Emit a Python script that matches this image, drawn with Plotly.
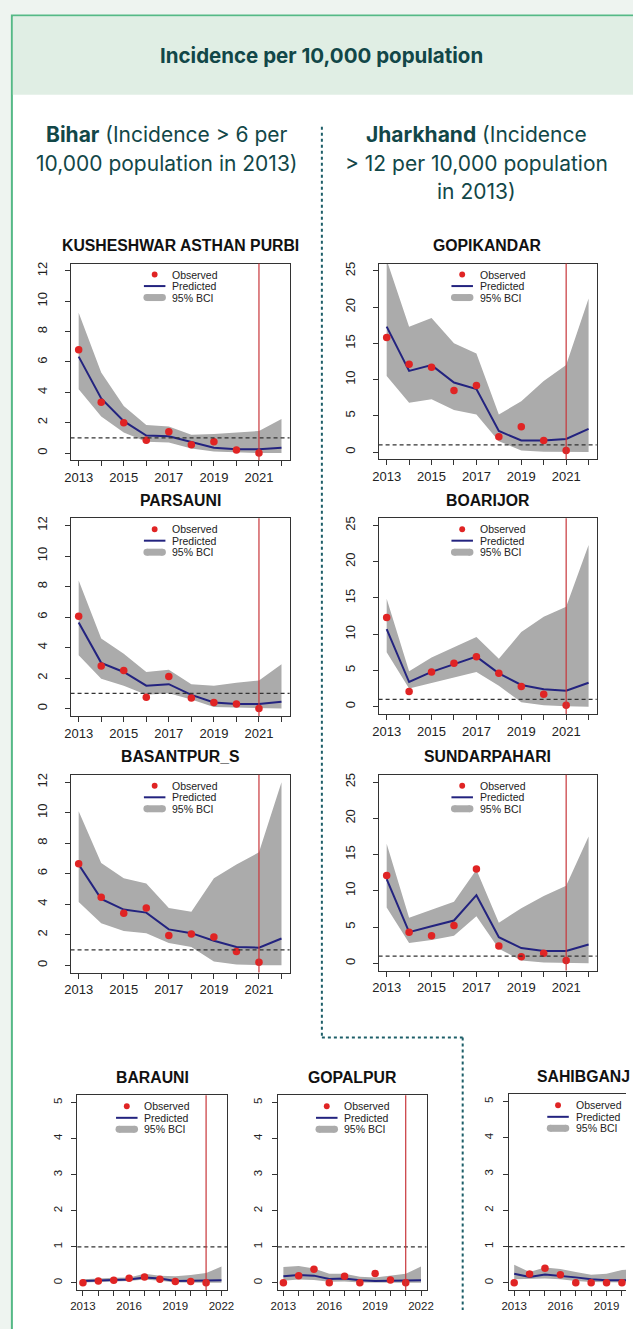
import plotly.graph_objects as go

W, H = 633, 1329

# ---------------- data ----------------
years = [2013, 2014, 2015, 2016, 2017, 2018, 2019, 2020, 2021, 2022]
obs_years = [2013, 2014, 2015, 2016, 2017, 2018, 2019, 2020, 2021]
cutoff_year = 2021
threshold = 1

kush_obs = [6.8, 3.35, 2.0, 0.85, 1.4, 0.55, 0.75, 0.2, 0.0]
kush_pred = [6.35, 3.6, 2.1, 1.15, 1.1, 0.75, 0.35, 0.25, 0.25, 0.35]
kush_hi = [9.25, 5.3, 3.1, 1.85, 1.75, 1.2, 1.25, 1.35, 1.45, 2.25]
kush_lo = [4.2, 2.4, 1.35, 0.75, 0.7, 0.3, 0.1, 0.05, 0.0, 0.0]

pars_obs = [6.05, 2.8, 2.5, 0.75, 2.1, 0.7, 0.4, 0.3, 0.0]
pars_pred = [5.65, 3.0, 2.4, 1.5, 1.6, 0.9, 0.4, 0.3, 0.3, 0.45]
pars_hi = [8.4, 4.6, 3.6, 2.4, 2.55, 1.6, 1.5, 1.7, 1.85, 2.9]
pars_lo = [3.5, 1.95, 1.5, 0.9, 1.0, 0.6, 0.1, 0.05, 0.02, 0.0]

basa_obs = [6.65, 4.45, 3.4, 3.75, 1.95, 2.05, 1.85, 0.9, 0.2]
basa_pred = [6.6, 4.35, 3.65, 3.45, 2.35, 2.1, 1.6, 1.2, 1.15, 1.75]
basa_hi = [10.1, 6.7, 5.7, 5.35, 3.75, 3.5, 5.7, 6.6, 7.4, 12.0]
basa_lo = [4.15, 2.75, 2.25, 2.1, 1.45, 1.2, 0.25, 0.05, 0.0, 0.0]

gopi_obs = [15.8, 12.1, 11.7, 8.5, 9.2, 2.1, 3.5, 1.6, 0.2]
gopi_pred = [17.3, 11.2, 12.0, 9.6, 8.7, 2.9, 1.6, 1.6, 1.8, 3.2]
gopi_hi = [26.5, 17.3, 18.5, 15.0, 13.6, 5.2, 7.0, 9.8, 12.0, 21.2]
gopi_lo = [10.5, 6.8, 7.3, 5.8, 5.2, 1.5, 0.2, 0.05, 0.0, 0.0]

boar_obs = [12.3, 2.1, 4.8, 6.0, 6.9, 4.6, 2.8, 1.7, 0.2]
boar_pred = [10.7, 3.4, 4.8, 5.9, 6.9, 4.6, 3.0, 2.4, 2.2, 3.3]
boar_hi = [14.9, 4.9, 6.8, 8.2, 9.6, 6.6, 10.3, 12.4, 13.8, 22.3]
boar_lo = [7.5, 2.5, 3.3, 4.0, 4.8, 2.9, 0.6, 0.2, 0.05, 0.0]

sund_obs = [12.1, 4.3, 3.8, 5.2, 13.0, 2.4, 0.9, 1.4, 0.4]
sund_pred = [11.6, 4.3, 5.1, 5.9, 9.4, 3.6, 2.1, 1.7, 1.7, 2.6]
sund_hi = [16.5, 6.3, 7.4, 8.5, 12.9, 5.6, 7.6, 9.3, 10.7, 17.5]
sund_lo = [7.7, 2.8, 3.2, 3.8, 6.5, 2.0, 0.4, 0.1, 0.0, 0.0]

bara_obs = [0.0, 0.05, 0.07, 0.13, 0.16, 0.1, 0.04, 0.04, 0.0]
bara_pred = [0.05, 0.07, 0.08, 0.09, 0.15, 0.12, 0.05, 0.05, 0.05, 0.07]
bara_hi = [0.1, 0.13, 0.14, 0.15, 0.25, 0.2, 0.18, 0.22, 0.27, 0.45]
bara_lo = [0.01, 0.03, 0.04, 0.05, 0.09, 0.06, 0.01, 0.0, 0.0, 0.0]

gopa_obs = [0.0, 0.2, 0.38, 0.0, 0.18, 0.0, 0.26, 0.08, 0.0]
gopa_pred = [0.18, 0.22, 0.2, 0.11, 0.12, 0.07, 0.05, 0.05, 0.05, 0.07]
gopa_hi = [0.44, 0.47, 0.4, 0.25, 0.25, 0.17, 0.15, 0.2, 0.25, 0.45]
gopa_lo = [0.06, 0.09, 0.08, 0.03, 0.04, 0.01, 0.0, 0.0, 0.0, 0.0]

sahi_obs = [0.0, 0.24, 0.4, 0.22, 0.0, 0.0, 0.0, 0.0, 0.0]
sahi_pred = [0.25, 0.16, 0.23, 0.2, 0.15, 0.1, 0.07, 0.07, 0.07, 0.1]
sahi_hi = [0.5, 0.3, 0.42, 0.38, 0.3, 0.22, 0.25, 0.35, 0.4, 0.6]
sahi_lo = [0.1, 0.1, 0.12, 0.1, 0.05, 0.02, 0.0, 0.0, 0.0, 0.0]

legend_labels = ["Observed", "Predicted", "95% BCI"]
title_text = "Incidence per 10,000 population"

# ---------------- layout config (pixel boxes) ----------------
big_ticks = [0, 2, 4, 6, 8, 10, 12]
jh_ticks = [0, 5, 10, 15, 20, 25]
small_ticks = [0, 1, 2, 3, 4, 5]
odd_labels = [str(y) if (y - 2013) % 2 == 0 else "" for y in years]
third_labels = [str(y) if (y - 2013) % 3 == 0 else "" for y in years]

panels = [
    ("KUSHESHWAR ASTHAN PURBI", kush_obs, kush_pred, kush_lo, kush_hi, (65, 289, 262, 459), [-0.48, 12.48], big_ticks, odd_labels, 13, None),
    ("PARSAUNI", pars_obs, pars_pred, pars_lo, pars_hi, (65, 289, 517, 715), [-0.48, 12.48], big_ticks, odd_labels, 13, None),
    ("BASANTPUR_S", basa_obs, basa_pred, basa_lo, basa_hi, (65, 289, 774, 972), [-0.48, 12.48], big_ticks, odd_labels, 13, None),
    ("GOPIKANDAR", gopi_obs, gopi_pred, gopi_lo, gopi_hi, (380, 603, 262, 458), [-1, 26], jh_ticks, odd_labels, 13, None),
    ("BOARIJOR", boar_obs, boar_pred, boar_lo, boar_hi, (380, 603, 517, 713), [-1, 26], jh_ticks, odd_labels, 13, None),
    ("SUNDARPAHARI", sund_obs, sund_pred, sund_lo, sund_hi, (380, 603, 774, 970), [-1, 26], jh_ticks, odd_labels, 13, None),
    ("BARAUNI", bara_obs, bara_pred, bara_lo, bara_hi, (72, 225, 1095, 1290), [-0.2, 5.2], small_ticks, third_labels, 11.5, None),
    ("GOPALPUR", gopa_obs, gopa_pred, gopa_lo, gopa_hi, (277, 429, 1095, 1290), [-0.2, 5.2], small_ticks, third_labels, 11.5, None),
    ("SAHIBGANJ", sahi_obs, sahi_pred, sahi_lo, sahi_hi, (513, 633, 1094, 1290), [-0.2, 5.2], small_ticks, third_labels, 11.5, 153),
]

X0R, X1R = 2012.64, 2022.36

GRAY = "#ababab"
NAVY = "#23237f"
RED = "#e02424"
VRED = "#c8363a"
AX = "#333333"
FONT = "Liberation Sans, Arial, sans-serif"
TEAL = "#124748"


def px(x):
    return x / W


def py(y):
    return 1 - y / H


fig = go.Figure()
shapes = []
annotations = []
layout_axes = {}

for i, (name, obs, pred, lo, hi, box, yr, yt, xlab, tfs, full_w) in enumerate(panels):
    k = "" if i == 0 else str(i + 1)
    xa, ya = "x" + k, "y" + k
    l, r, t, b = box
    if full_w is None:
        xrange = [X0R, X1R]
        cx = (l + r) / 2
        ymirror = True
    else:
        pxyr = full_w / (X1R - X0R)
        xrange = [X0R, X0R + (r - l) / pxyr]
        cx = l + full_w / 2
        ymirror = False
    standoff = 12 if t < 1000 else 5

    layout_axes["xaxis" + k] = dict(
        domain=[px(l), px(r)], anchor=ya, range=xrange, showgrid=False, zeroline=False,
        showline=True, linecolor=AX, linewidth=1, mirror=True,
        ticks="outside", ticklen=5, tickcolor=AX, tickwidth=1,
        tickmode="array", tickvals=years, ticktext=xlab,
        tickfont=dict(family=FONT, size=tfs, color="#222"), fixedrange=True,
    )
    layout_axes["yaxis" + k] = dict(
        domain=[py(b), py(t)], anchor=xa, range=yr, showgrid=False, zeroline=False,
        showline=True, linecolor=AX, linewidth=1, mirror=ymirror,
        ticks="outside", ticklen=5, tickcolor=AX, tickwidth=1,
        tickmode="array", tickvals=yt, ticktext=[str(v) for v in yt], tickangle=-90,
        ticklabelstandoff=standoff,
        tickfont=dict(family=FONT, size=tfs, color="#222"), fixedrange=True,
    )

    # BCI band
    fig.add_trace(go.Scatter(
        x=years + years[::-1], y=hi + lo[::-1], xaxis=xa, yaxis=ya,
        fill="toself", fillcolor=GRAY, line=dict(width=0), mode="lines",
        hoverinfo="skip", showlegend=False,
    ))
    # predicted
    fig.add_trace(go.Scatter(
        x=years, y=pred, xaxis=xa, yaxis=ya, mode="lines",
        line=dict(color=NAVY, width=2), hoverinfo="skip", showlegend=False,
    ))
    # observed
    fig.add_trace(go.Scatter(
        x=obs_years, y=obs, xaxis=xa, yaxis=ya, mode="markers",
        marker=dict(color=RED, size=7.5, line=dict(width=0)),
        hoverinfo="skip", showlegend=False, cliponaxis=False,
    ))

    # threshold dashed line
    shapes.append(dict(type="line", xref=xa + " domain", yref=ya, x0=0, x1=1,
                       y0=threshold, y1=threshold,
                       line=dict(color=AX, width=1.2, dash="4px,3px"), layer="above"))
    # cutoff red line
    if cutoff_year <= xrange[1]:
        shapes.append(dict(type="line", xref=xa, yref=ya + " domain", x0=cutoff_year,
                           x1=cutoff_year, y0=0, y1=1,
                           line=dict(color=VRED, width=1.2), layer="above"))

    # panel title
    annotations.append(dict(text="<b>%s</b>" % name, x=px(cx), y=py(t - 18),
                            xref="paper", yref="paper", showarrow=False,
                            xanchor="center", yanchor="middle",
                            font=dict(family=FONT, size=15.8, color="#111")))

    # legend (drawn in pixels relative to box centre)
    rows = [t + 11, t + 22.5, t + 34]
    dr = 3
    shapes.append(dict(type="circle", xref="paper", yref="paper",
                       x0=px(cx - 26 - dr), x1=px(cx - 26 + dr),
                       y0=py(rows[0] + dr), y1=py(rows[0] - dr),
                       fillcolor=RED, line=dict(width=0), layer="above"))
    shapes.append(dict(type="line", xref="paper", yref="paper",
                       x0=px(cx - 37), x1=px(cx - 15), y0=py(rows[1]), y1=py(rows[1]),
                       line=dict(color=NAVY, width=2), layer="above"))
    shapes.append(dict(type="line", xref="paper", yref="paper",
                       x0=px(cx - 34), x1=px(cx - 18), y0=py(rows[2]), y1=py(rows[2]),
                       line=dict(color=GRAY, width=7), layer="above"))
    for ex in (cx - 34, cx - 18):
        shapes.append(dict(type="circle", xref="paper", yref="paper",
                           x0=px(ex - 3.5), x1=px(ex + 3.5),
                           y0=py(rows[2] + 3.5), y1=py(rows[2] - 3.5),
                           fillcolor=GRAY, line=dict(width=0), layer="above"))
    for lab, ry in zip(legend_labels, rows):
        annotations.append(dict(text=lab, x=px(cx - 10), y=py(ry), xref="paper", yref="paper",
                                showarrow=False, xanchor="left", yanchor="middle",
                                font=dict(family=FONT, size=10.5, color="#222")))

# ---------------- page decorations ----------------
deco = [
    # card
    dict(type="rect", xref="paper", yref="paper", x0=px(5), x1=px(700), y0=py(1400), y1=py(13.5),
         fillcolor="white", line=dict(color="#55b986", width=2), layer="below"),
    # header band
    dict(type="rect", xref="paper", yref="paper", x0=px(6), x1=px(700), y0=py(93), y1=py(14.5),
         fillcolor="#e0eee4", line=dict(width=0), layer="below"),
    # dotted separators
    dict(type="line", xref="paper", yref="paper", x0=px(322), x1=px(322), y0=py(125), y1=py(1037),
         line=dict(color="#1d5e68", width=2, dash="dot"), layer="below"),
    dict(type="line", xref="paper", yref="paper", x0=px(322), x1=px(466), y0=py(1037), y1=py(1037),
         line=dict(color="#1d5e68", width=2, dash="dot"), layer="below"),
    dict(type="line", xref="paper", yref="paper", x0=px(466), x1=px(466), y0=py(1037), y1=py(1310),
         line=dict(color="#1d5e68", width=2, dash="dot"), layer="below"),
]
shapes = deco + shapes

HFONT = "Inter, Noto Sans, sans-serif"
HS = 21
annotations += [
    dict(text="<b>%s</b>" % title_text, x=px(322), y=py(54), xref="paper", yref="paper",
         showarrow=False, xanchor="center", yanchor="middle",
         font=dict(family=HFONT, size=20.5, color=TEAL)),
    dict(text="<b>Bihar</b> (Incidence > 6 per", x=px(164), y=py(133), xref="paper", yref="paper",
         showarrow=False, xanchor="center", yanchor="middle",
         font=dict(family=HFONT, size=HS, color=TEAL)),
    dict(text="10,000 population in 2013)", x=px(164), y=py(162), xref="paper", yref="paper",
         showarrow=False, xanchor="center", yanchor="middle",
         font=dict(family=HFONT, size=HS, color=TEAL)),
    dict(text="<b>Jharkhand</b> (Incidence", x=px(480), y=py(133), xref="paper", yref="paper",
         showarrow=False, xanchor="center", yanchor="middle",
         font=dict(family=HFONT, size=HS, color=TEAL)),
    dict(text="> 12 per 10,000 population", x=px(480), y=py(162), xref="paper", yref="paper",
         showarrow=False, xanchor="center", yanchor="middle",
         font=dict(family=HFONT, size=HS, color=TEAL)),
    dict(text="in 2013)", x=px(480), y=py(190), xref="paper", yref="paper",
         showarrow=False, xanchor="center", yanchor="middle",
         font=dict(family=HFONT, size=HS, color=TEAL)),
]

fig.update_layout(
    width=W, height=H, margin=dict(l=0, r=0, t=0, b=0),
    paper_bgcolor="#eef4f0", plot_bgcolor="rgba(0,0,0,0)",
    showlegend=False, shapes=shapes, annotations=annotations,
    **layout_axes,
)

fig.write_html("out.html", config={"displayModeBar": False})
